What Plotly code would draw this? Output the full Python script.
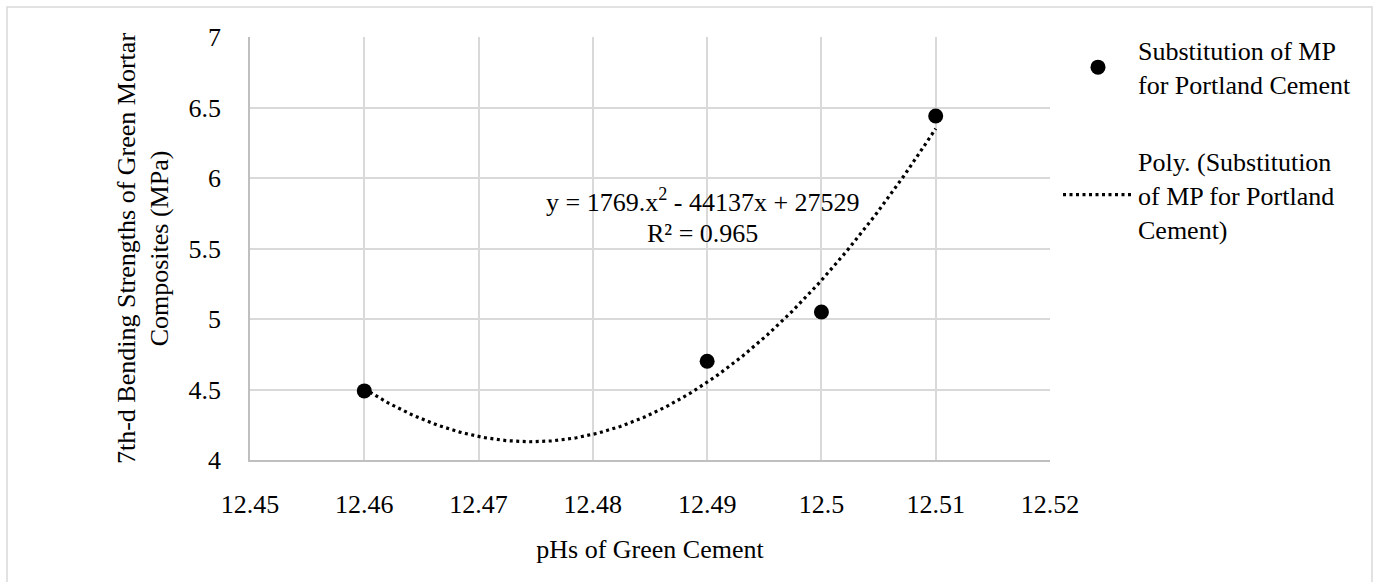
import numpy as np
import plotly.graph_objects as go

# ---- data ----
ph_values = [12.46, 12.49, 12.50, 12.51]
strength_values = [4.49, 4.70, 5.05, 6.44]
series_name = "Substitution of MP<br>for Portland Cement"
trend_name = "Poly. (Substitution<br>of MP for Portland<br>Cement)"
x_ticks = [12.45, 12.46, 12.47, 12.48, 12.49, 12.50, 12.51, 12.52]
x_tick_labels = ["12.45", "12.46", "12.47", "12.48", "12.49", "12.5", "12.51", "12.52"]
y_ticks = [4, 4.5, 5, 5.5, 6, 6.5, 7]
y_tick_labels = ["4", "4.5", "5", "5.5", "6", "6.5", "7"]
equation_text = "y = 1769.x<sup>2</sup> - 44137x + 27529"
r2_text = "R² = 0.965"
x_title = "pHs of Green Cement"
y_title = "7th-d Bending Strengths of Green Mortar<br>Composites (MPa)"

# second-order polynomial trendline fitted to the data (as Excel does)
coef = np.polyfit(ph_values, strength_values, 2)
trend_x = np.linspace(min(ph_values), max(ph_values), 300)
trend_y = np.polyval(coef, trend_x)

FONT = "'Liberation Serif', 'Times New Roman', Tinos, 'DejaVu Serif', serif"
GRID = "#d9d9d9"

fig = go.Figure()
fig.add_trace(go.Scatter(
    x=ph_values, y=strength_values, mode="markers", name=series_name,
    legendgroup="a",
    marker=dict(color="black", size=15, line=dict(width=0)),
))
fig.add_trace(go.Scatter(
    x=trend_x, y=trend_y, mode="lines", name=trend_name,
    legendgroup="b",
    line=dict(color="black", width=3.2, dash="3px,3.5px"),
))

fig.add_annotation(x=12.4896, y=5.84, xref="x", yref="y", text=equation_text,
                   showarrow=False, font=dict(family=FONT, size=26, color="black"))
fig.add_annotation(x=12.4896, y=5.605, xref="x", yref="y", text=r2_text,
                   showarrow=False, font=dict(family=FONT, size=26, color="black"))

# outer chart frame
fig.add_shape(type="rect", xref="paper", yref="paper",
              x0=-0.30375, x1=1.4025, y0=-0.35, y1=1.0709,
              line=dict(color=GRID, width=1.5), fillcolor="rgba(0,0,0,0)", layer="below")

fig.update_layout(
    width=1380, height=582,
    margin=dict(l=250, r=330, t=37, b=122, autoexpand=False),
    paper_bgcolor="white", plot_bgcolor="white",
    font=dict(family=FONT, size=26, color="black"),
    showlegend=True,
    legend=dict(x=1.01, y=1.024, xanchor="left", yanchor="top",
                font=dict(family=FONT, size=26, color="black"),
                bgcolor="rgba(0,0,0,0)", itemwidth=70, tracegroupgap=40,
                traceorder="grouped"),
    xaxis=dict(range=[12.45, 12.52], tickvals=x_ticks, ticktext=x_tick_labels,
               showgrid=True, gridcolor=GRID, gridwidth=1.5,
               showline=True, linecolor="#bfbfbf", linewidth=1.5, mirror=False,
               zeroline=False, ticks="", ticklabelstandoff=20,
               tickfont=dict(family=FONT, size=26, color="black"),
               title=dict(text=x_title, standoff=22,
                          font=dict(family=FONT, size=26, color="black"))),
    yaxis=dict(range=[4, 7], tickvals=y_ticks, ticktext=y_tick_labels,
               showgrid=True, gridcolor=GRID, gridwidth=1.5,
               showline=True, linecolor="#bfbfbf", linewidth=1.5,
               zeroline=False, ticks="", ticklabelstandoff=22,
               tickfont=dict(family=FONT, size=26, color="black"),
               title=dict(text=y_title, standoff=12,
                          font=dict(family=FONT, size=26, color="black"))),
)

fig.write_html("out.html")
